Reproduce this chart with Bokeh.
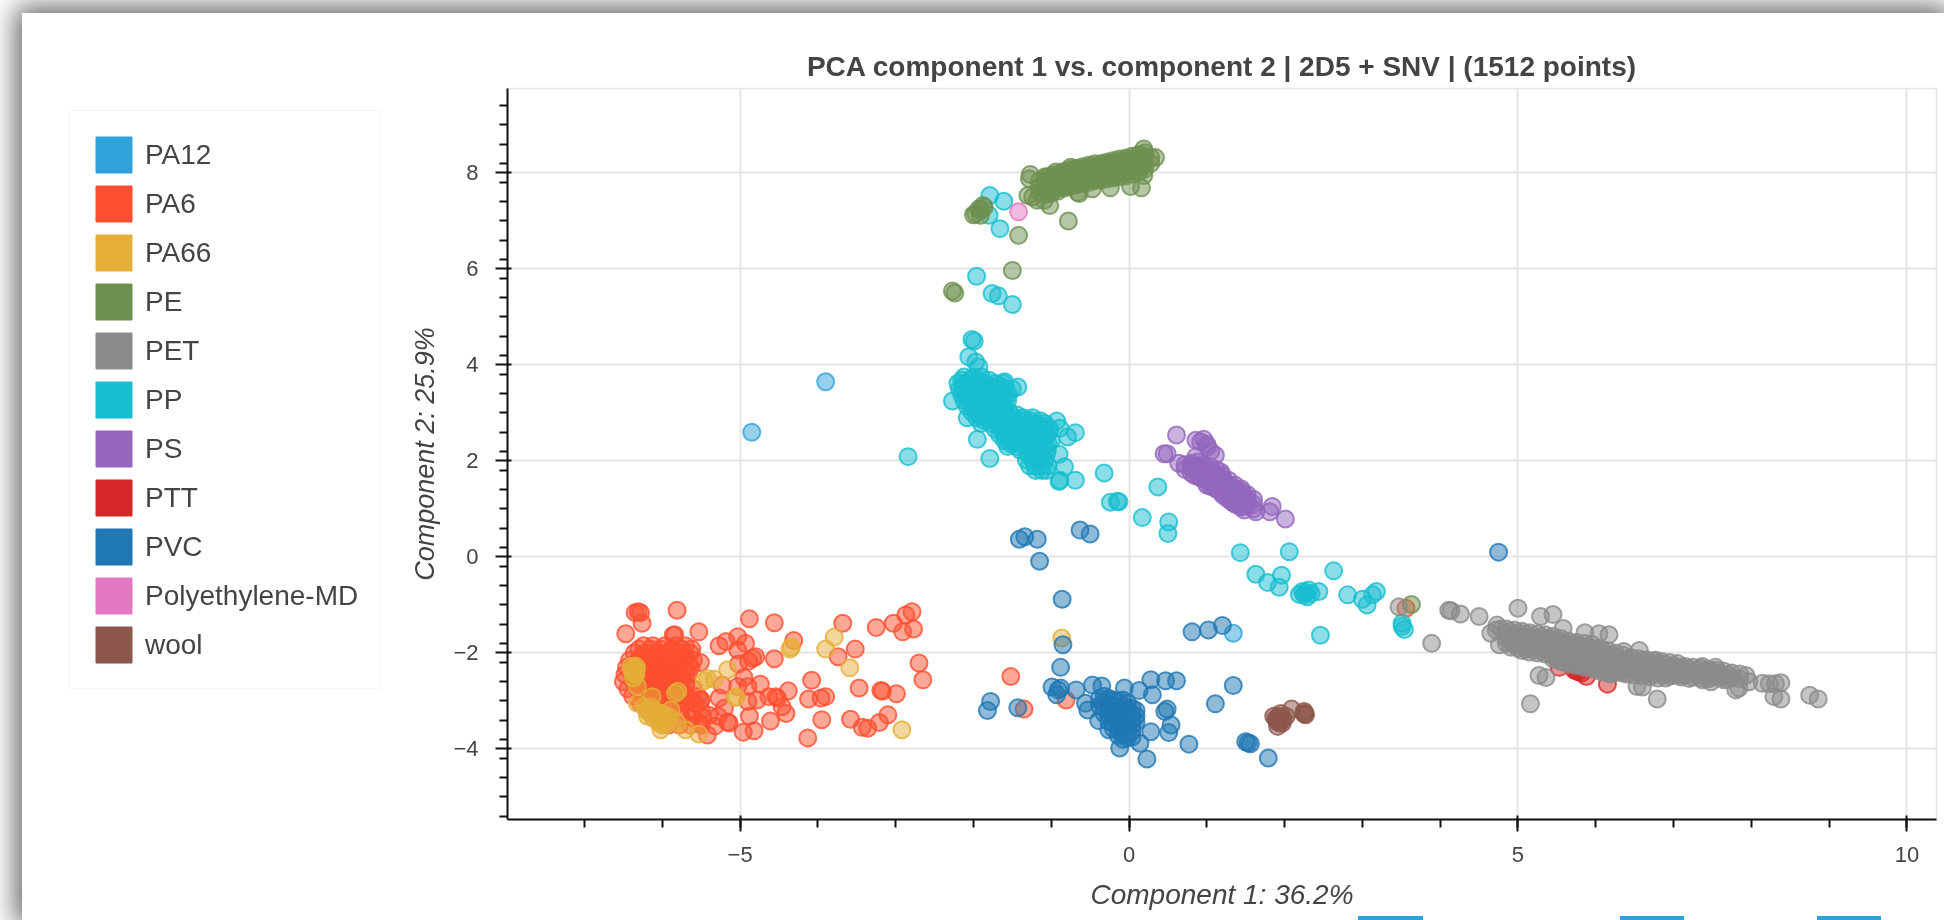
from bokeh.embed import file_html
from bokeh.resources import INLINE
from bokeh.plotting import figure
from bokeh.layouts import column
from bokeh.models import Range1d, Legend, LegendItem, Div, FixedTicker
from bokeh.core.properties import value

categories = ["PA12", "PA6", "PA66", "PE", "PET", "PP", "PS", "PTT", "PVC", "Polyethylene-MD", "wool"]
colors = ["#30a2da", "#fc4f30", "#e5ae38", "#6d904f", "#8b8b8b", "#17becf", "#9467bd", "#d62728", "#1f77b4", "#e377c2", "#8c564b"]

pa12 = [(-4.85, 2.6), (-3.9, 3.65), (1.34, -1.59)]

pa6 = [(-5.81,-1.11),(-4.88,-1.29),(-4.56,-1.37),(-3.68,-1.38),(-2.79,-1.14),(-2.87,-1.21),(-3.03,-1.38),(-3.25,-1.47),
       (-2.91,-1.56),(-2.77,-1.5),(-4.31,-1.74),(-3.52,-1.92),(-3.74,-2.08),(-2.7,-2.21),(-2.65,-2.56),(-3.47,-2.73),
       (-4.08,-2.57),(-3.19,-2.78),(-3.17,-2.8),(-2.99,-2.85),(-3.9,-2.91),(-3.96,-2.94),(-4.12,-2.96),(-4.38,-2.79),
       (-3.95,-3.39),(-3.1,-3.29),(-3.21,-3.45),(-3.58,-3.38),(-3.36,-3.57),(-3.43,-3.55),(-4.13,-3.77),(-4.61,-3.42),
       (-4.41,-3.26),(-4.46,-3.12),(-4.54,-2.91),(-4.52,-2.94),(-4.74,-2.65),(-4.95,-2.51),(-4.88,-3.32),(-4.82,-3.62),
       (-4.96,-3.65),(-5.14,-3.46),(-5.16,-3.44),(-5.28,-3.32),(-5.27,-2.94),(-5.23,-2.67),(-5.03,-1.66),(-4.93,-1.8),
       (-5.18,-1.76),(-5.27,-1.85),(-5.03,-1.94),(-4.8,-2.08),(-4.84,-2.11),(-4.56,-2.12),(-4.89,-2.17),(-5.02,-2.23),
       (-5.51,-2.2),(-5.53,-1.56),(-5.86,-1.63),(-5.84,-1.62),(-6.35,-1.16),(-6.28,-1.16),(-6.31,-1.14),(-6.47,-1.6),
       (-6.26,-1.38),(-5.42,-3.71),(-5.53,-3.46),(-5.51,-2.98),(-4.78,-2.98),(-4.63,-2.91),(-4.9,-3.01),(-5.03,-2.7),
       (-4.9,-2.7),(-1.52,-2.49),(-1.35,-3.17),(-0.81,-2.98),(3.56,-1.07),(-5.32,-3.52),(-5.2,-3.15),(-5.4,-3.3)]
pa6_rows = [(-1.85, [-6.24,-6.12,-5.97,-5.82,-5.7]),
            (-2.0, [-6.36,-6.22,-6.07,-5.93,-5.79,-5.64]),
            (-2.15, [-6.42,-6.29,-6.14,-6.01,-5.87,-5.73,-5.6]),
            (-2.3, [-6.46,-6.33,-6.19,-6.06,-5.91,-5.78,-5.63]),
            (-2.45, [-6.48,-6.35,-6.22,-6.08,-5.95,-5.81,-5.67]),
            (-2.6, [-6.5,-6.37,-6.24,-6.1,-5.97,-5.83,-5.69]),
            (-2.75, [-6.44,-6.31,-6.17,-6.03,-5.89,-5.75,-5.6]),
            (-2.9, [-6.38,-6.24,-6.1,-5.96,-5.82,-5.68,-5.54]),
            (-3.05, [-6.28,-6.14,-6.0,-5.86,-5.72,-5.58]),
            (-3.2, [-6.18,-6.04,-5.9,-5.76,-5.62,-5.5]),
            (-3.35, [-6.05,-5.9,-5.76,-5.62,-5.48]),
            (-3.5, [-5.92,-5.78,-5.64,-5.5]),
            (-2.08, [-6.28,-6.13,-5.99,-5.85,-5.71]),
            (-2.22, [-6.35,-6.2,-6.06,-5.92,-5.78,-5.66]),
            (-2.38, [-6.4,-6.26,-6.12,-5.98,-5.84,-5.7]),
            (-2.53, [-6.3,-6.16,-6.02,-5.88,-5.74]),
            (-2.68, [-6.26,-6.12,-5.98,-5.84,-5.7]),
            (-2.83, [-6.2,-6.06,-5.92,-5.78]),
            (-1.92, [-6.3,-6.15,-6.02,-5.88,-5.75,-5.62]),
            (-2.98, [-6.2,-6.05,-5.91,-5.77,-5.63,-5.5])]

pa66 = [(-3.79,-1.67),(-3.9,-1.92),(-3.59,-2.31),(-4.36,-1.92),(-4.34,-1.88),(-5.16,-2.35),(-2.92,-3.6),(-5.06,-2.93),
        (-5.05,-2.92),(-5.33,-2.55),(-5.46,-2.58),(-5.42,-2.53),(-6.36,-2.4),(-6.34,-2.46),(-6.32,-2.7),(-5.8,-2.8),
        (-5.83,-2.84),(-6.13,-2.91),(-6.32,-3.05),(-6.23,-3.12),(-6.15,-3.26),(-6.06,-3.32),(-6.02,-3.6),(-5.89,-3.19),
        (-5.81,-3.46),(-5.7,-3.6),(-5.53,-3.69),(-6.04,-3.46),(-6.19,-3.32),(-5.93,-3.46),(-6.38,-2.35),(-6.4,-2.28),
        (-6.35,-2.43),(-6.33,-2.3),(-6.37,-2.52),(-6.1,-3.2),(-6.05,-3.4),(-6.0,-3.3),(-6.0,-3.5),(-5.95,-3.3),
        (-6.36,-2.33),(-6.38,-2.42),(-6.34,-2.38),(-6.39,-2.36),(-6.35,-2.27),(-6.2,-3.2),(-6.12,-3.35),(-6.08,-3.25),
        (-6.02,-3.42),(-5.98,-3.38),(-5.9,-3.35),(-6.03,-3.25),(-6.15,-3.12),(-0.865,-1.69)]

pe = [(-2.0,7.13),(-1.93,7.25),(-1.88,7.32),(-1.91,7.22),(-1.97,7.15),(-1.86,7.29),(-1.91,7.12),(-1.42,6.7),(-1.5,5.97),
      (-0.78,7.0),(-2.27,5.54),(-2.24,5.5),(-1.27,7.97),(-1.28,7.88),(-1.3,7.53),(-1.24,7.5),(-1.18,7.43),(-1.02,7.32),
      (-1.09,7.43),(-0.66,7.6),(-0.64,7.57),(-0.47,7.67),(-0.24,7.69),(0.02,7.72),(0.16,7.69),(0.19,7.95),(0.19,8.5),
      (0.34,8.32),(-0.94,8.02),(-0.75,8.12),(-1.05,7.91),(3.63,-0.99)]
pe_cols = [(-1.15,[7.6,7.72,7.84]),(-1.08,[7.55,7.68,7.8,7.92]),(-1.0,[7.58,7.7,7.82,7.95]),(-0.92,[7.62,7.74,7.86,7.98]),
           (-0.84,[7.68,7.8,7.92,8.03]),(-0.76,[7.72,7.84,7.96,8.07]),(-0.68,[7.75,7.87,7.99,8.1]),(-0.6,[7.78,7.9,8.02,8.13]),
           (-0.52,[7.8,7.92,8.04,8.16]),(-0.44,[7.84,7.96,8.08,8.19]),(-0.36,[7.85,7.97,8.09,8.2]),(-0.28,[7.88,8.0,8.12,8.23]),
           (-0.2,[7.9,8.02,8.14,8.26]),(-0.12,[7.92,8.04,8.16,8.29]),(-0.04,[7.94,8.06,8.18,8.31]),(0.04,[7.98,8.1,8.22,8.35]),
           (0.12,[8.02,8.14,8.26,8.38]),(0.2,[8.08,8.2,8.32,8.42]),(0.28,[8.2,8.32]),
           (-1.04,[7.62,7.74,7.86]),(-0.96,[7.66,7.78,7.9]),(-0.88,[7.7,7.83,7.96]),(-0.8,[7.74,7.88,8.0]),
           (-0.72,[7.78,7.92,8.04]),(-0.64,[7.82,7.95,8.07]),(-0.56,[7.84,7.97,8.1]),(-0.48,[7.88,8.0,8.13]),
           (-0.4,[7.9,8.03,8.15]),(-0.32,[7.92,8.06,8.18]),(-0.24,[7.95,8.08,8.2]),(-0.16,[7.98,8.1,8.23]),
           (-0.08,[8.0,8.12,8.25]),(0.0,[8.04,8.16,8.28]),(0.08,[8.08,8.2,8.32]),(0.16,[8.12,8.25,8.37])]

pet = [(4.14,-1.12),(4.11,-1.11),(4.26,-1.19),(4.5,-1.24),(3.89,-1.8),(3.47,-1.04),(5.0,-1.07),(4.73,-1.42),(4.65,-1.59),
       (4.76,-1.83),(4.91,-1.88),(5.29,-1.24),(5.45,-1.2),(5.58,-1.49),(5.86,-1.58),(6.04,-1.6),(6.17,-1.62),(5.27,-2.47),
       (5.36,-2.51),(5.16,-3.06),(6.36,-1.97),(6.56,-1.95),(6.77,-2.15),(6.53,-2.7),(6.6,-2.71),(6.79,-2.96),(7.37,-2.28),
       (7.54,-2.3),(7.37,-2.56),(7.48,-2.6),(7.8,-2.77),(7.84,-2.73),(7.93,-2.47),(7.97,-2.6),(8.14,-2.63),(8.23,-2.64),
       (8.31,-2.64),(8.38,-2.62),(8.29,-2.91),(8.38,-2.96),(8.75,-2.88),(8.86,-2.96),(7.07,-2.46),(4.78,-1.5),(4.72,-1.52)]
pet_cols = [(4.85,[-1.5,-1.6,-1.7,-1.8]),(4.95,[-1.52,-1.62,-1.72,-1.82]),(5.05,[-1.55,-1.65,-1.75,-1.85,-1.95]),
            (5.15,[-1.58,-1.68,-1.78,-1.88,-1.98]),(5.25,[-1.6,-1.7,-1.8,-1.9,-2.0]),(5.35,[-1.62,-1.72,-1.82,-1.92,-2.02]),
            (5.45,[-1.65,-1.75,-1.85,-1.95,-2.05,-2.12]),(5.55,[-1.7,-1.8,-1.9,-2.0,-2.1,-2.18]),
            (5.65,[-1.75,-1.85,-1.95,-2.05,-2.15,-2.23]),(5.75,[-1.78,-1.88,-1.98,-2.08,-2.18,-2.26]),
            (5.85,[-1.8,-1.9,-2.0,-2.1,-2.2,-2.3]),(5.95,[-1.82,-1.92,-2.02,-2.12,-2.22,-2.32]),
            (6.05,[-1.9,-2.0,-2.1,-2.2,-2.3,-2.38]),(6.15,[-1.95,-2.05,-2.15,-2.25,-2.35,-2.43]),
            (6.25,[-2.0,-2.1,-2.2,-2.3,-2.4]),(6.35,[-2.05,-2.15,-2.25,-2.35,-2.42]),(6.45,[-2.1,-2.2,-2.3,-2.4]),
            (6.55,[-2.12,-2.22,-2.32,-2.42]),(6.65,[-2.14,-2.24,-2.34,-2.44]),(6.75,[-2.16,-2.26,-2.36,-2.44]),
            (6.85,[-2.18,-2.28,-2.38,-2.46]),(6.95,[-2.2,-2.3,-2.4,-2.48]),(7.05,[-2.22,-2.32,-2.42]),
            (7.15,[-2.28,-2.38,-2.46]),(7.25,[-2.3,-2.4,-2.5]),(7.35,[-2.32,-2.42,-2.52]),(7.45,[-2.34,-2.44,-2.54]),
            (7.55,[-2.36,-2.46]),(7.65,[-2.38,-2.48,-2.56]),(7.75,[-2.42,-2.52]),(7.85,[-2.44,-2.54]),
            (4.9,[-1.56,-1.66,-1.76]),(5.0,[-1.58,-1.68,-1.78,-1.9]),(5.1,[-1.6,-1.7,-1.8,-1.92]),(5.2,[-1.64,-1.74,-1.84,-1.94]),
            (5.3,[-1.66,-1.76,-1.86,-1.96]),(5.4,[-1.7,-1.8,-1.9,-2.0]),(5.5,[-1.72,-1.84,-1.94,-2.04,-2.14]),
            (5.6,[-1.78,-1.88,-1.98,-2.08,-2.2]),(5.7,[-1.82,-1.92,-2.02,-2.12,-2.22]),(5.8,[-1.85,-1.95,-2.05,-2.15,-2.25]),
            (5.9,[-1.88,-1.98,-2.08,-2.18,-2.28]),(6.0,[-1.94,-2.04,-2.14,-2.24,-2.34]),(6.1,[-1.98,-2.08,-2.18,-2.28,-2.38]),
            (6.2,[-2.04,-2.14,-2.24,-2.34,-2.44]),(6.3,[-2.1,-2.2,-2.3,-2.4]),(6.4,[-2.14,-2.24,-2.34,-2.44]),
            (6.5,[-2.16,-2.26,-2.36,-2.46]),(6.6,[-2.18,-2.28,-2.38,-2.48]),(6.7,[-2.2,-2.3,-2.4,-2.5]),
            (6.8,[-2.22,-2.32,-2.42,-2.52]),(6.9,[-2.24,-2.34,-2.44,-2.52]),(7.0,[-2.27,-2.37,-2.47]),
            (7.1,[-2.3,-2.4,-2.5]),(7.2,[-2.33,-2.43,-2.53]),(7.3,[-2.36,-2.46]),(7.4,[-2.38,-2.48]),(7.5,[-2.4,-2.5]),
            (7.6,[-2.42,-2.52]),(7.7,[-2.45,-2.55])]

pp = [(-1.79,7.53),(-1.61,7.41),(-1.8,7.12),(-1.66,6.84),(-1.96,5.85),(-1.76,5.49),(-1.68,5.44),(-1.5,5.26),(-2.02,4.53),
      (-1.99,4.5),(-2.27,3.25),(-1.95,2.45),(-1.79,2.05),(-2.08,2.9),(-2.06,4.17),(-1.97,4.06),(-1.93,3.96),(-2.84,2.09),
      (-1.43,3.54),(-1.6,3.65),(-0.93,2.83),(-0.89,2.68),(-0.69,2.59),(-0.79,2.5),(-0.9,2.14),(-0.83,1.88),(-0.69,1.6),
      (-0.9,1.57),(-0.89,1.6),(-0.32,1.75),(-0.24,1.14),(-0.15,1.16),(-0.13,1.15),(0.37,1.46),(0.17,0.82),(0.51,0.73),
      (0.5,0.49),(1.43,0.09),(2.06,0.11),(1.63,-0.36),(1.96,-0.38),(1.78,-0.53),(1.93,-0.63),(2.63,-0.29),(2.46,-1.63),
      (2.81,-0.79),(3.0,-0.88),(3.06,-1.0),(3.13,-0.79),(3.18,-0.72),(3.51,-1.38),(3.54,-1.51),(3.51,-1.45),(2.27,-0.74),
      (2.19,-0.78),(2.44,-0.72),(2.29,-0.83),(2.23,-0.72),(2.34,-0.76),(2.31,-0.69),(2.25,-0.79)]
pp_rows = [(3.75,[-2.12,-2.0,-1.9]),(3.62,[-2.2,-2.1,-1.98,-1.86,-1.72,-1.62]),(3.5,[-2.18,-2.06,-1.94,-1.82,-1.7,-1.58,-1.5]),
           (3.38,[-2.15,-2.03,-1.9,-1.78,-1.66,-1.55]),(3.26,[-2.12,-2.0,-1.88,-1.76,-1.64,-1.56]),(3.14,[-2.08,-1.96,-1.84,-1.72,-1.6]),
           (3.02,[-2.02,-1.9,-1.78,-1.66,-1.54]),(2.9,[-1.96,-1.84,-1.72,-1.6,-1.48,-1.36,-1.24]),
           (2.78,[-1.9,-1.78,-1.66,-1.54,-1.42,-1.3,-1.18,-1.08]),(2.66,[-1.72,-1.6,-1.48,-1.36,-1.24,-1.12,-1.02]),
           (2.54,[-1.66,-1.54,-1.42,-1.3,-1.18,-1.06]),(2.42,[-1.6,-1.48,-1.36,-1.24,-1.12,-1.0]),
           (2.3,[-1.56,-1.44,-1.32,-1.2,-1.08]),(2.15,[-1.3,-1.22,-1.14,-1.06]),(2.02,[-1.32,-1.24,-1.16,-1.08]),
           (1.9,[-1.28,-1.2,-1.12,-1.04]),(1.8,[-1.2,-1.12,-1.06]),
           (3.68,[-2.15,-2.04,-1.93,-1.8]),(3.56,[-2.14,-2.02,-1.9,-1.77,-1.65]),(3.44,[-2.12,-2.0,-1.86,-1.74,-1.62]),
           (3.32,[-2.09,-1.96,-1.83,-1.7,-1.6]),(3.2,[-2.05,-1.93,-1.8,-1.68]),(3.08,[-1.99,-1.87,-1.74,-1.62]),
           (2.96,[-1.93,-1.81,-1.69,-1.57,-1.44]),(2.84,[-1.86,-1.74,-1.62,-1.5,-1.38,-1.26,-1.14]),
           (2.72,[-1.68,-1.56,-1.44,-1.32,-1.2,-1.08]),(2.6,[-1.62,-1.5,-1.38,-1.26,-1.14,-1.03]),
           (2.48,[-1.58,-1.46,-1.34,-1.22,-1.1]),(2.36,[-1.52,-1.4,-1.28,-1.16,-1.04]),(2.23,[-1.4,-1.28,-1.16,-1.05])]

ps = [(0.61,2.54),(0.49,2.15),(0.45,2.15),(0.64,1.95),(0.86,2.43),(0.96,2.45),(1.01,2.29),(1.11,2.12),(0.86,2.09),(1.18,1.77),
      (1.84,1.05),(1.81,0.94),(2.01,0.79),(1.63,0.94),(1.48,0.98),(1.46,1.36),(0.92,2.4),(1.0,2.35),(1.05,2.2)]
ps_cols = [(0.72,[1.92,1.82]),(0.8,[1.95,1.85,1.75]),(0.88,[1.98,1.88,1.78,1.68]),(0.96,[1.92,1.82,1.72,1.62]),
           (1.04,[1.88,1.78,1.68,1.58,1.48]),(1.12,[1.82,1.72,1.62,1.52,1.42]),(1.2,[1.7,1.6,1.5,1.4,1.3]),
           (1.28,[1.6,1.5,1.4,1.3,1.2]),(1.36,[1.5,1.4,1.3,1.2,1.1]),(1.44,[1.42,1.32,1.22,1.12,1.04]),
           (1.52,[1.3,1.2,1.1]),(1.6,[1.2,1.1,1.0]),
           (0.84,[1.9,1.8,1.7]),(0.92,[1.85,1.75,1.65]),(1.0,[1.8,1.7,1.6,1.5]),(1.08,[1.75,1.65,1.55,1.45]),
           (1.16,[1.68,1.58,1.48,1.38]),(1.24,[1.55,1.45,1.35,1.25]),(1.32,[1.45,1.35,1.25,1.15]),(1.4,[1.38,1.28,1.18,1.08]),
           (1.48,[1.26,1.16,1.06])]

ptt = [(5.53,-2.3),(5.72,-2.35),(5.78,-2.39),(5.88,-2.49),(6.15,-2.65),(5.75,-2.37),(5.82,-2.42)]

pvc = [(-1.41,0.37),(-1.34,0.42),(-1.18,0.37),(-1.15,-0.09),(-0.63,0.56),(-0.5,0.48),(-0.86,-0.88),(-0.85,-1.83),(-0.88,-2.3),
       (-0.99,-2.71),(-0.91,-2.77),(-0.93,-2.87),(-0.88,-2.73),(-0.68,-2.77),(-0.56,-3.05),(-0.53,-3.19),(-0.39,-3.41),
       (-0.47,-2.67),(-0.35,-2.69),(-0.06,-2.73),(0.13,-2.78),(0.28,-2.56),(0.47,-2.58),(0.61,-2.58),(0.3,-2.87),(0.49,-3.17),
       (0.46,-3.22),(0.54,-3.5),(0.51,-3.66),(0.28,-3.64),(0.14,-3.88),(0.23,-4.21),(-0.12,-3.98),(-0.26,-3.6),(0.77,-3.9),
       (1.11,-3.06),(1.34,-2.68),(1.5,-3.85),(1.56,-3.89),(1.53,-3.87),(1.79,-4.19),(0.81,-1.56),(1.02,-1.52),(1.2,-1.43),
       (-1.43,-3.14),(-1.78,-3.01),(-1.82,-3.2),(4.75,0.1)]
pvc_cols = [(-0.38,[-2.95,-3.1]),(-0.32,[-2.9,-3.02,-3.14,-3.26]),(-0.26,[-2.95,-3.07,-3.19,-3.31,-3.43]),
            (-0.2,[-2.98,-3.1,-3.22,-3.34,-3.46,-3.58]),(-0.14,[-3.0,-3.12,-3.24,-3.36,-3.48,-3.6,-3.72]),
            (-0.08,[-2.98,-3.1,-3.22,-3.34,-3.46,-3.58,-3.7,-3.8]),(-0.02,[-3.05,-3.17,-3.29,-3.41,-3.53,-3.65,-3.77]),
            (0.04,[-3.15,-3.27,-3.39,-3.51,-3.63,-3.75]),(0.09,[-3.2,-3.32,-3.44])]

polyethylene_md = [(-1.42, 7.19)]

wool = [(1.93,-3.32),(1.89,-3.36),(1.93,-3.46),(1.91,-3.53),(1.95,-3.26),(2.02,-3.32),(2.09,-3.17),(2.26,-3.26),(2.27,-3.29),
        (1.86,-3.32),(1.97,-3.46),(2.25,-3.22),(1.98,-3.38),(1.95,-3.4),(1.9,-3.42),(2.25,-3.27)]

title = "PCA component 1 vs. component 2 | 2D5 + SNV | (1512 points)"
x_label = "Component 1: 36.2%"
y_label = "Component 2: 25.9%"
x_ticks = [-5, 0, 5, 10]
y_ticks = [-4, -2, 0, 2, 4, 6, 8]


def from_rows(rows):
    return [(x, y) for y, xs in rows for x in xs]


def from_cols(cols):
    return [(x, y) for x, ys in cols for y in ys]


series = {
    "PA12": pa12,
    "PA6": pa6 + from_rows(pa6_rows),
    "PA66": pa66,
    "PE": pe + from_cols(pe_cols),
    "PET": pet + from_cols(pet_cols),
    "PP": pp + from_rows(pp_rows),
    "PS": ps + from_cols(ps_cols),
    "PTT": ptt,
    "PVC": pvc + from_cols(pvc_cols),
    "Polyethylene-MD": polyethylene_md,
    "wool": wool,
}
draw_order = ["PA12", "PA6", "PA66", "PP", "PS", "PTT", "PVC", "PE", "PET", "Polyethylene-MD", "wool"]

TEXT = "#444444"
FONT = "Liberation Sans"

p = figure(width=1922, height=907,
           x_range=Range1d(-7.99, 10.38), y_range=Range1d(-5.47, 9.76),
           output_backend="svg", toolbar_location=None,
           min_border_left=485, min_border_right=8, min_border_top=75, min_border_bottom=101,
           x_axis_label=x_label, y_axis_label=y_label,
           background_fill_color="white", border_fill_color="white")
p.styles = {"position": "fixed", "left": "22px", "top": "13px",
            "box-shadow": "0 0 26px 6px rgba(0,0,0,0.62)"}

p.title.text = title
p.title.align = "center"
p.title.text_font = FONT
p.title.text_font_size = "28px"
p.title.text_font_style = "bold"
p.title.text_color = TEXT
p.title.standoff = 14

p.outline_line_color = "#e5e5e5"
p.outline_line_width = 1.5

for ax, ticks in ((p.xaxis[0], x_ticks), (p.yaxis[0], y_ticks)):
    ax.ticker = FixedTicker(ticks=ticks,
                            minor_ticks=[t / 1.0 for t in range(-8, 11)] if ticks is x_ticks
                            else [v / 10 for v in range(-54, 98, 4)])
    ax.axis_line_color = "#111111"
    ax.axis_line_width = 2
    ax.major_tick_line_color = "#111111"
    ax.major_tick_line_width = 2
    ax.minor_tick_line_color = "#111111"
    ax.minor_tick_line_width = 2
    ax.major_tick_in = 4
    ax.major_tick_out = 12
    ax.minor_tick_in = 0
    ax.minor_tick_out = 8
    ax.major_label_text_font = FONT
    ax.major_label_text_font_size = "22px"
    ax.major_label_text_color = TEXT
    ax.axis_label_text_font = FONT
    ax.axis_label_text_font_size = "28px"
    ax.axis_label_text_font_style = "italic"
    ax.axis_label_text_color = TEXT

p.yaxis[0].axis_label_text_font_size = "27px"
p.xaxis[0].major_label_standoff = 15
p.xaxis[0].axis_label_standoff = 14
p.yaxis[0].major_label_standoff = 17
p.yaxis[0].axis_label_standoff = 10

p.xgrid.grid_line_color = "#e5e5e5"
p.ygrid.grid_line_color = "#e5e5e5"
p.xgrid.grid_line_width = 2
p.ygrid.grid_line_width = 2

for name in draw_order:
    pts = series[name]
    color = colors[categories.index(name)]
    p.scatter([a for a, _ in pts], [b for _, b in pts], size=17, marker="circle",
              fill_color=color, fill_alpha=0.5, line_color=color, line_alpha=0.8, line_width=2)

# The legend sits in its own small figure, laid over the empty left part of the main one.
lf = figure(frame_width=316, frame_height=580, x_range=Range1d(0, 1), y_range=Range1d(0, 1),
            output_backend="svg", toolbar_location=None,
            x_axis_location=None, y_axis_location=None, min_border=0,
            min_border_left=0, min_border_right=0, min_border_top=0, min_border_bottom=0,
            outline_line_color=None, background_fill_alpha=0, border_fill_alpha=0)
lf.grid.visible = False
lf.styles = {"position": "fixed", "left": "69px", "top": "110px", "z-index": "5"}

nan = float("nan")
items = []
for name, color in zip(categories, colors):
    swatch = lf.quad(left=[nan], right=[nan], top=[nan], bottom=[nan], fill_color=color, line_color=color)
    items.append(LegendItem(label=value(name), renderers=[swatch]))

legend = Legend(items=items, location="top_left", orientation="vertical",
                glyph_width=45, glyph_height=45, spacing=4, padding=21, margin=0,
                label_standoff=9, label_text_font=FONT, label_text_font_size="28px",
                label_text_color=TEXT, label_height=45,
                border_line_color="#eeeeee", border_line_width=1, background_fill_alpha=1)
lf.add_layout(legend, "center")

bars = [Div(text="", width=r - l, height=4, margin=0,
            styles={"position": "fixed", "left": f"{l}px", "top": "916px", "background": "#2ca3dd", "z-index": "10"})
        for l, r in ((1358, 1423), (1620, 1684), (1817, 1881))]

open("out.html", "w").write(file_html(column(p, lf, *bars), INLINE))
